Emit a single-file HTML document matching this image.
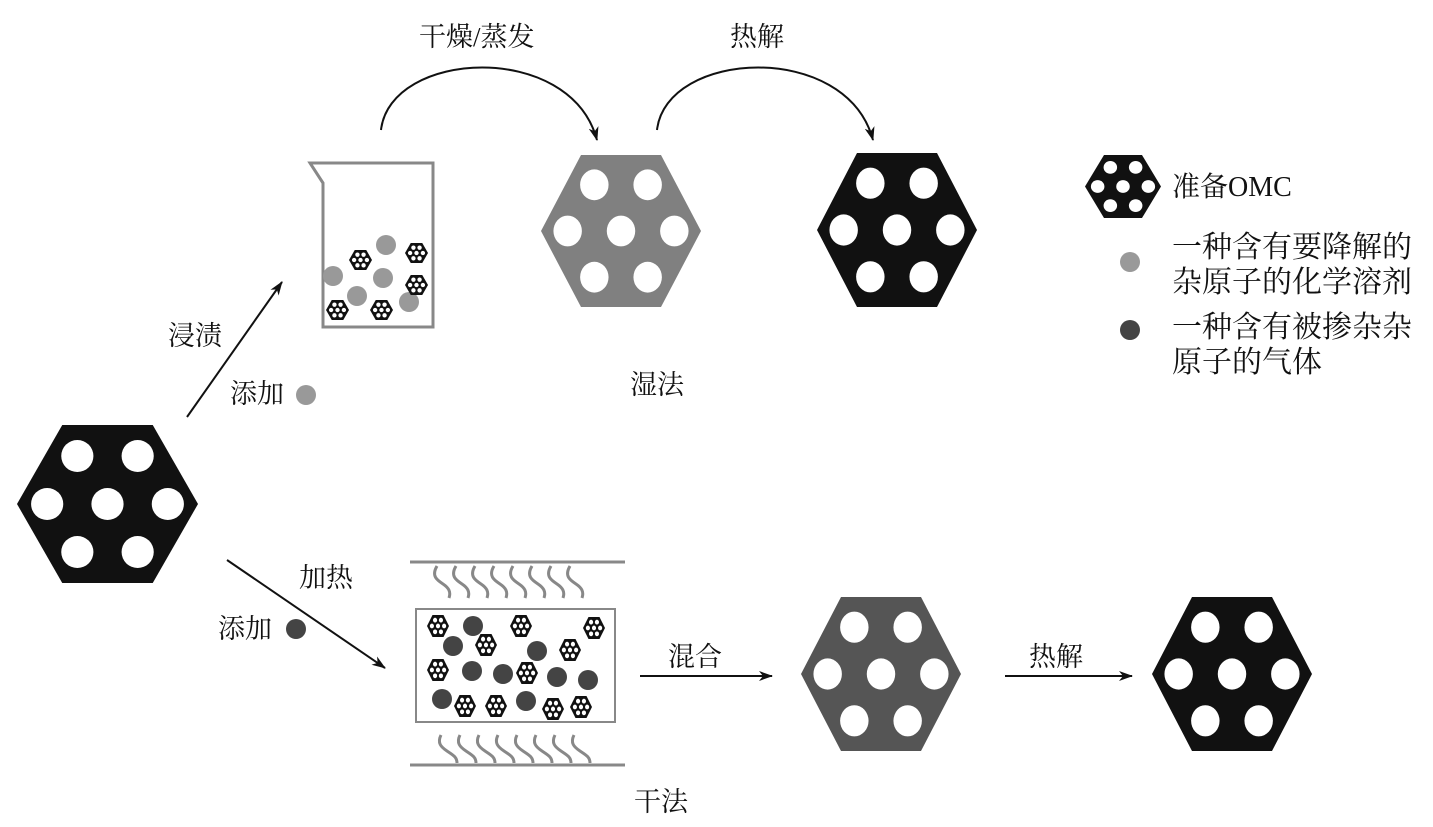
<!DOCTYPE html>
<html><head><meta charset="utf-8"><style>
html,body{margin:0;padding:0;background:#fff;}
svg{display:block;}
text{font-family:"Liberation Serif","Noto Serif CJK SC",serif;fill:#111;}
</style></head><body>
<svg width="1433" height="827" viewBox="0 0 1433 827" xmlns="http://www.w3.org/2000/svg">
<defs>
<symbol id="hx" viewBox="-90 -79 180 158" preserveAspectRatio="none">
<polygon points="-90,0 -45,-79 45,-79 90,0 45,79 -45,79"/>
<g fill="#fff">
<circle cx="-30" cy="-48" r="16"/><circle cx="30" cy="-48" r="16"/>
<circle cx="-60" cy="0" r="16"/><circle cx="0" cy="0" r="16"/><circle cx="60" cy="0" r="16"/>
<circle cx="-30" cy="48" r="16"/><circle cx="30" cy="48" r="16"/>
</g>
</symbol>
<symbol id="sh" viewBox="-90 -79 180 158" preserveAspectRatio="none">
<polygon points="-90,0 -45,-79 45,-79 90,0 45,79 -45,79" fill="#111"/>
<g fill="#fff">
<circle cx="-24" cy="-42" r="17"/><circle cx="24" cy="-42" r="17"/>
<circle cx="-50" cy="0" r="17"/><circle cx="0" cy="0" r="17"/><circle cx="50" cy="0" r="17"/>
<circle cx="-24" cy="42" r="17"/><circle cx="24" cy="42" r="17"/>
</g>
</symbol>
<marker id="ar" markerWidth="14" markerHeight="10" refX="13" refY="5" orient="auto" markerUnits="userSpaceOnUse">
<path d="M0,0 L14,5 L0,10 L4,5 Z" fill="#111"/>
</marker>
</defs>

<!-- big hexes -->
<use href="#hx" x="17" y="425" width="181" height="158" fill="#111"/>
<use href="#hx" x="541" y="155" width="160" height="152" fill="#808080"/>
<use href="#hx" x="817" y="153" width="160" height="154" fill="#111"/>
<use href="#hx" x="801" y="597" width="160" height="154" fill="#555"/>
<use href="#hx" x="1152" y="597" width="160" height="154" fill="#111"/>
<use href="#hx" x="1085" y="155" width="76" height="63" fill="#111"/>

<!-- beaker -->
<path d="M310,163 L433,163 L433,327 L323,327 L323,183 Z" fill="none" stroke="#888" stroke-width="3" stroke-linejoin="miter"/>
<g fill="#999">
<circle cx="386" cy="245" r="10"/><circle cx="333" cy="276" r="10"/><circle cx="383" cy="278" r="10"/>
<circle cx="357" cy="296" r="10"/><circle cx="409" cy="302" r="10"/>
</g>
<use href="#sh" x="349" y="250" width="23" height="20"/>
<use href="#sh" x="405" y="243" width="23" height="20"/>
<use href="#sh" x="405" y="275" width="23" height="20"/>
<use href="#sh" x="326" y="300" width="23" height="20"/>
<use href="#sh" x="370" y="300" width="23" height="20"/>

<!-- dry box -->
<line x1="410" y1="562" x2="625" y2="562" stroke="#888" stroke-width="3"/>
<line x1="410" y1="765" x2="625" y2="765" stroke="#888" stroke-width="3"/>
<g fill="none" stroke="#888" stroke-width="3">
<path d="M437,566 c-6,10 0,14 6,18 c6,4 8,8 6,14"/>
<path d="M456,566 c-6,10 0,14 6,18 c6,4 8,8 6,14"/>
<path d="M475,566 c-6,10 0,14 6,18 c6,4 8,8 6,14"/>
<path d="M494,566 c-6,10 0,14 6,18 c6,4 8,8 6,14"/>
<path d="M513,566 c-6,10 0,14 6,18 c6,4 8,8 6,14"/>
<path d="M532,566 c-6,10 0,14 6,18 c6,4 8,8 6,14"/>
<path d="M551,566 c-6,10 0,14 6,18 c6,4 8,8 6,14"/>
<path d="M570,566 c-6,10 0,14 6,18 c6,4 8,8 6,14"/>
<path d="M441,735 c-4,8 0,12 6,16 c6,4 10,6 10,12"/>
<path d="M460,735 c-4,8 0,12 6,16 c6,4 10,6 10,12"/>
<path d="M479,735 c-4,8 0,12 6,16 c6,4 10,6 10,12"/>
<path d="M498,735 c-4,8 0,12 6,16 c6,4 10,6 10,12"/>
<path d="M517,735 c-4,8 0,12 6,16 c6,4 10,6 10,12"/>
<path d="M536,735 c-4,8 0,12 6,16 c6,4 10,6 10,12"/>
<path d="M555,735 c-4,8 0,12 6,16 c6,4 10,6 10,12"/>
<path d="M574,735 c-4,8 0,12 6,16 c6,4 10,6 10,12"/>
</g>
<rect x="416" y="609" width="199" height="113" fill="none" stroke="#888" stroke-width="2"/>
<g fill="#444">
<circle cx="473" cy="626" r="10"/><circle cx="453" cy="646" r="10"/><circle cx="537" cy="651" r="10"/>
<circle cx="472" cy="671" r="10"/><circle cx="503" cy="674" r="10"/><circle cx="557" cy="677" r="10"/>
<circle cx="588" cy="680" r="10"/><circle cx="442" cy="699" r="10"/><circle cx="526" cy="701" r="10"/>
</g>
<use href="#sh" x="427" y="615" width="22" height="22"/>
<use href="#sh" x="475" y="634" width="22" height="22"/>
<use href="#sh" x="510" y="615" width="22" height="22"/>
<use href="#sh" x="583" y="617" width="22" height="22"/>
<use href="#sh" x="559" y="639" width="22" height="22"/>
<use href="#sh" x="427" y="659" width="22" height="22"/>
<use href="#sh" x="516" y="662" width="22" height="22"/>
<use href="#sh" x="454" y="695" width="22" height="22"/>
<use href="#sh" x="485" y="695" width="22" height="22"/>
<use href="#sh" x="542" y="698" width="22" height="22"/>
<use href="#sh" x="570" y="696" width="22" height="22"/>

<!-- arrows -->
<g fill="none" stroke="#111" stroke-width="2">
<path d="M381,130 C390,50 570,40 597,140" marker-end="url(#ar)"/>
<path d="M657,130 C666,50 846,40 873,140" marker-end="url(#ar)"/>
<line x1="187" y1="417" x2="282" y2="282" marker-end="url(#ar)"/>
<line x1="227" y1="560" x2="385" y2="668" marker-end="url(#ar)"/>
<line x1="640" y1="676" x2="772" y2="676" marker-end="url(#ar)"/>
<line x1="1005" y1="676" x2="1132" y2="676" marker-end="url(#ar)"/>
</g>

<!-- labels -->
<g font-size="27">
<text x="419" y="46">干燥/蒸发</text>
<text x="730" y="46">热解</text>
<text x="168" y="345">浸渍</text>
<text x="230" y="403">添加</text>
<text x="630" y="394">湿法</text>
<text x="299" y="587">加热</text>
<text x="218" y="638">添加</text>
<text x="668" y="666">混合</text>
<text x="1029" y="666">热解</text>
<text x="634" y="811">干法</text>
</g>
<circle cx="306" cy="395" r="10" fill="#999"/>
<circle cx="296" cy="629" r="10" fill="#444"/>

<!-- legend -->
<text x="1172" y="196" font-size="28">准备OMC</text>
<circle cx="1130" cy="262" r="10" fill="#999"/>
<circle cx="1130" cy="330" r="10" fill="#444"/>
<g font-size="30">
<text x="1172" y="257">一种含有要降解的</text>
<text x="1172" y="292">杂原子的化学溶剂</text>
<text x="1172" y="337">一种含有被掺杂杂</text>
<text x="1172" y="372">原子的气体</text>
</g>
</svg>
</body></html>
